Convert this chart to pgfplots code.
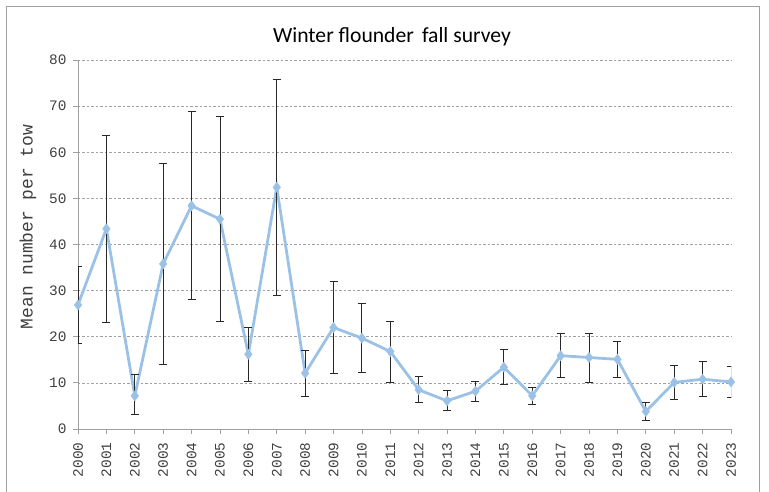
\documentclass[border=0pt]{standalone}
\usepackage{pgfplots}
\pgfplotsset{compat=1.18}
\usepackage{fontspec}
\setmainfont{Carlito}
\newfontfamily\monofont{Liberation Mono}
\definecolor{lineblue}{RGB}{155,194,230}
\definecolor{gridgray}{RGB}{160,160,160}
\definecolor{textgray}{RGB}{64,64,64}
\definecolor{errgray}{RGB}{40,40,40}
\begin{document}
\begin{tikzpicture}
\path[use as bounding box] (-78bp,-63bp) rectangle (691bp,429bp);
\draw[gridgray, line width=1bp] (-71bp,-80bp) -- (-71bp,422bp) -- (681bp,422bp) -- (681bp,-80bp);
\begin{axis}[
  at={(0,0)}, anchor=south west,
  scale only axis, width=653bp, height=369bp,
  xmin=2000, xmax=2023, ymin=0, ymax=80,
  xtick={2000,2001,...,2023},
  ytick={0,10,...,80},
  axis lines*=left,
  axis line style={gridgray, line width=0.8bp},
  tick style={gridgray, line width=0.8bp},
  tick align=outside,
  major tick length=5bp,
  ymajorgrids,
  grid style={gridgray, dash pattern=on 2.5bp off 2bp, line width=0.7bp},
  /pgf/number format/assume math mode=true,
  /pgf/number format/1000 sep={},
  ticklabel style={font=\monofont\fontsize{14.5}{14.5}\selectfont, text=textgray},
  xticklabel style={rotate=90, anchor=east, xshift=-5bp},
  yticklabel style={xshift=-3bp},
  clip mode=individual,
]
\addplot[color=lineblue, line width=2.8bp, mark=diamond*, mark size=5bp,
  mark options={fill=lineblue, draw=lineblue, line width=0.5bp},
  error bars/.cd, y dir=both, y explicit, error mark=|,
  error bar style={line width=0.9bp, color=errgray},
  error mark options={mark size=4bp, line width=0.9bp, color=errgray}]
coordinates {
(2000,26.9) +- (0,8.4)
(2001,43.4) +- (0,20.2)
(2002,7.2) += (0,4.6) -= (0,4.1)
(2003,35.8) +- (0,21.7)
(2004,48.4) +- (0,20.4)
(2005,45.5) +- (0,22.2)
(2006,16.2) +- (0,5.8)
(2007,52.4) +- (0,23.4)
(2008,12.1) +- (0,5.0)
(2009,22.0) +- (0,10.0)
(2010,19.7) +- (0,7.5)
(2011,16.8) +- (0,6.6)
(2012,8.5) +- (0,2.85)
(2013,6.1) +- (0,2.15)
(2014,8.2) +- (0,2.2)
(2015,13.4) +- (0,3.8)
(2016,7.2) +- (0,1.85)
(2017,15.9) +- (0,4.8)
(2018,15.5) +- (0,5.3)
(2019,15.1) +- (0,3.85)
(2020,3.8) +- (0,2.05)
(2021,10.1) +- (0,3.65)
(2022,10.8) +- (0,3.75)
(2023,10.2) +- (0,3.4)
};
\end{axis}
\node[anchor=base, font=\fontsize{21.7}{21.7}\selectfont] at (314bp,386bp) {Winter flounder\hspace{0.15em} fall survey};
\node[rotate=90, font=\monofont\fontsize{18}{18}\selectfont, text=textgray] at (-50bp,202bp) {Mean number per tow};
\end{tikzpicture}
\end{document}
